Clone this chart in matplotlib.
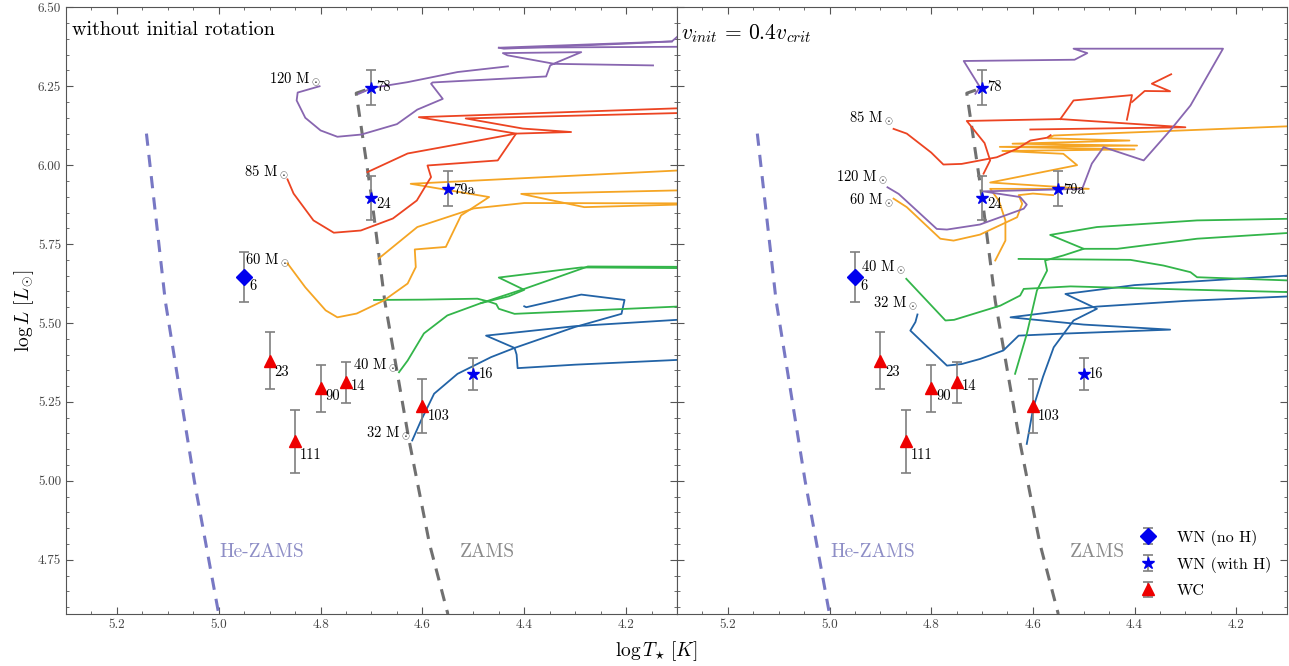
import numpy as np
import matplotlib.pyplot as plt
from matplotlib.ticker import MultipleLocator, AutoMinorLocator, FormatStrFormatter

plt.rcParams['font.family'] = 'serif'
plt.rcParams['font.serif'] = ['cmr10', 'DejaVu Serif']
plt.rcParams['mathtext.fontset'] = 'cm'
plt.rcParams['axes.formatter.use_mathtext'] = True

# ---- observed WR stars (log Teff, log L, error) ----
wn_noh_name = ['6']
wn_noh_T = [4.95]
wn_noh_L = [5.646]
wn_noh_err = [0.08]

wnh_name = ['78', '24', '79a', '16']
wnh_T = [4.70, 4.70, 4.55, 4.50]
wnh_L = [6.246, 5.897, 5.925, 5.338]
wnh_err = [0.055, 0.07, 0.055, 0.05]

wc_name = ['23', '90', '14', '111', '103']
wc_T = [4.90, 4.80, 4.75, 4.85, 4.60]
wc_L = [5.38, 5.293, 5.313, 5.125, 5.237]
wc_err = [0.09, 0.075, 0.065, 0.10, 0.085]

label_offsets = {'6': (5, -9), '78': (5, 0), '24': (5, -6), '79a': (5, -1), '16': (5, 0),
                 '23': (5, -11), '90': (5, -8), '14': (5, -4), '111': (5, -14), '103': (5, -10)}

# ---- ZAMS lines ----
zams_T = [4.712, 4.730, 4.700, 4.674, 4.627, 4.586, 4.550]
zams_L = [6.238, 6.228, 5.900, 5.570, 5.135, 4.800, 4.578]
hezams_T = [5.142, 5.105, 5.048, 5.000]
hezams_L = [6.100, 5.570, 5.000, 4.578]

# ---- tracks without rotation: list of segments of (logT, logL) ----
m32_norot = [
    [(4.620, 5.128), (4.603, 5.19), (4.577, 5.276), (4.531, 5.339), (4.465, 5.392), (4.419, 5.421),
     (4.301, 5.487), (4.209, 5.529), (4.203, 5.573), (4.288, 5.59), (4.396, 5.55), (4.40, 5.553)],
    [(4.10, 5.51), (4.30, 5.49), (4.475, 5.46), (4.419, 5.421), (4.415, 5.40), (4.413, 5.357),
     (4.30, 5.368), (4.10, 5.383)],
]
m40_norot = [
    [(4.646, 5.344), (4.629, 5.381), (4.597, 5.467), (4.551, 5.524), (4.485, 5.563), (4.40, 5.608),
     (4.275, 5.679), (4.10, 5.678)],
    [(4.695, 5.573), (4.60, 5.574), (4.492, 5.577), (4.47, 5.568), (4.455, 5.56), (4.45, 5.545),
     (4.419, 5.529), (4.10, 5.552)],
    [(4.485, 5.563), (4.43, 5.585), (4.40, 5.605), (4.45, 5.644), (4.288, 5.676), (4.10, 5.674)],
]
m60_norot = [
    [(4.865, 5.689), (4.83, 5.613), (4.79, 5.54), (4.767, 5.518), (4.729, 5.53), (4.676, 5.571),
     (4.629, 5.625), (4.613, 5.677), (4.615, 5.733), (4.554, 5.741), (4.524, 5.841), (4.469, 5.899),
     (4.623, 5.941), (4.10, 5.983)],
    [(4.686, 5.704), (4.610, 5.804), (4.499, 5.863), (4.40, 5.88), (4.10, 5.879)],
    [(4.10, 5.92), (4.406, 5.909), (4.282, 5.867), (4.10, 5.875)],
]
m85_norot = [
    [(4.865, 5.955), (4.853, 5.91), (4.814, 5.825), (4.774, 5.786), (4.721, 5.793), (4.658, 5.831),
     (4.611, 5.888), (4.587, 5.952), (4.583, 5.962), (4.590, 5.999), (4.452, 6.015), (4.416, 6.10),
     (4.308, 6.105), (4.403, 6.116), (4.515, 6.148), (4.10, 6.165)],
    [(4.708, 5.978), (4.629, 6.037), (4.50, 6.075), (4.416, 6.10), (4.607, 6.152), (4.10, 6.18)],
]
m120_norot = [
    [(4.802, 6.25), (4.845, 6.23), (4.847, 6.205), (4.83, 6.15), (4.80, 6.11), (4.767, 6.09),
     (4.72, 6.097), (4.65, 6.13), (4.610, 6.176), (4.560, 6.21), (4.583, 6.258), (4.58, 6.262),
     (4.357, 6.281), (4.349, 6.316), (4.334, 6.327), (4.288, 6.358), (4.442, 6.355), (4.433, 6.348),
     (4.341, 6.321), (4.147, 6.316)],
    [(4.725, 6.226), (4.698, 6.245), (4.629, 6.263), (4.531, 6.295), (4.432, 6.313)],
    [(4.10, 6.406), (4.11, 6.392), (4.45, 6.372), (4.10, 6.375)],
    [(4.45, 6.372), (4.44, 6.369), (4.20, 6.385), (4.11, 6.392)],
]

# ---- tracks with v_init = 0.4 v_crit ----
m32_rot = [
    [(4.827, 5.527), (4.831, 5.503), (4.841, 5.476), (4.769, 5.365), (4.74, 5.37), (4.704, 5.386),
     (4.658, 5.413), (4.628, 5.46), (4.546, 5.466), (4.330, 5.479), (4.50, 5.495), (4.644, 5.518),
     (4.474, 5.552), (4.30, 5.57), (4.10, 5.584)],
    [(4.612, 5.117), (4.599, 5.233), (4.580, 5.33), (4.559, 5.423), (4.520, 5.508), (4.474, 5.545),
     (4.536, 5.592), (4.40, 5.62), (4.10, 5.65)],
]
m40_rot = [
    [(4.849, 5.64), (4.772, 5.508), (4.755, 5.51), (4.664, 5.555), (4.625, 5.587), (4.618, 5.608),
     (4.526, 5.616), (4.30, 5.606), (4.10, 5.598)],
    [(4.628, 5.703), (4.408, 5.70), (4.343, 5.682), (4.29, 5.661), (4.277, 5.645), (4.10, 5.635)],
    [(4.635, 5.339), (4.612, 5.465), (4.592, 5.603), (4.572, 5.666), (4.576, 5.698), (4.54, 5.714),
     (4.50, 5.735), (4.566, 5.779), (4.474, 5.804), (4.277, 5.825), (4.10, 5.83)],
    [(4.50, 5.735), (4.434, 5.735), (4.277, 5.767), (4.10, 5.785)],
]
m60_rot = [
    [(4.874, 5.894), (4.848, 5.867), (4.782, 5.767), (4.756, 5.761), (4.704, 5.78), (4.631, 5.835),
     (4.621, 5.878), (4.628, 5.905), (4.60, 5.91), (4.56, 5.905)],
    [(4.674, 5.698), (4.654, 5.761), (4.654, 5.825), (4.667, 5.888), (4.684, 5.925), (4.49, 5.925),
     (4.684, 5.945), (4.513, 6.0), (4.54, 6.036), (4.66, 6.045), (4.40, 6.05), (4.665, 6.058),
     (4.395, 6.062), (4.64, 6.068), (4.41, 6.078), (4.57, 6.085), (4.559, 6.094), (4.10, 6.123)],
]
m85_rot = [
    [(4.874, 6.115), (4.848, 6.10), (4.80, 6.04), (4.776, 6.002), (4.74, 6.004), (4.671, 6.025),
     (4.631, 6.052), (4.605, 6.078), (4.572, 6.087), (4.565, 6.095)],
    [(4.697, 5.973), (4.684, 6.015), (4.695, 6.07), (4.730, 6.14), (4.546, 6.146), (4.30, 6.12),
     (4.605, 6.113)],
    [(4.546, 6.146), (4.52, 6.205), (4.405, 6.222), (4.415, 6.144)],
    [(4.405, 6.20), (4.38, 6.235), (4.330, 6.234), (4.366, 6.258), (4.328, 6.288)],
]
m120_rot = [
    [(4.886, 5.930), (4.864, 5.909), (4.789, 5.798), (4.769, 5.796), (4.704, 5.812), (4.618, 5.862),
     (4.612, 5.875), (4.625, 5.899), (4.698, 5.917), (4.503, 5.925), (4.484, 6.005), (4.461, 6.057),
     (4.382, 6.015), (4.330, 6.11), (4.290, 6.189), (4.226, 6.369), (4.520, 6.369), (4.493, 6.355),
     (4.518, 6.334), (4.736, 6.330), (4.704, 6.247), (4.713, 6.226)],
]

masses = ['32', '40', '60', '85', '120']
colors = ['#2263a6', '#33b54a', '#f5a524', '#ec4422', '#8866b0']
tracks_norot = [m32_norot, m40_norot, m60_norot, m85_norot, m120_norot]
tracks_rot = [m32_rot, m40_rot, m60_rot, m85_rot, m120_rot]

# mass label anchors (right edge, vertical centre)
lab_norot = [(4.623, 5.15), (4.648, 5.365), (4.861, 5.70), (4.863, 5.977), (4.800, 6.272)]
lab_rot = [(4.826, 5.562), (4.851, 5.676), (4.874, 5.888), (4.874, 6.148), (4.886, 5.961)]

fig = plt.figure(figsize=(12.89, 6.66), dpi=100)
ax1 = fig.add_axes([0.0512, 0.078, 0.474, 0.911])
ax2 = fig.add_axes([0.5252, 0.078, 0.4733, 0.911])

for ax, tracks, labs in [(ax1, tracks_norot, lab_norot), (ax2, tracks_rot, lab_rot)]:
    ax.plot(hezams_T, hezams_L, ls='--', color='#7878c4', lw=2.2, dashes=(4, 3))
    ax.plot(zams_T, zams_L, ls='--', color='#707070', lw=2.2, dashes=(4, 3))
    ax.text(4.915, 4.775, 'He-ZAMS', color='#8e8ec6', fontsize=14, ha='center', va='center')
    ax.text(4.473, 4.775, 'ZAMS', color='#8a8a8a', fontsize=14, ha='center', va='center')

    for segs, c in zip(tracks, colors):
        for seg in segs:
            seg = np.array(seg)
            ax.plot(seg[:, 0], seg[:, 1], color=c, lw=1.3)
    for m, (lt, ll) in zip(masses, labs):
        ax.text(lt, ll, m + r' M$_\odot$', fontsize=10.5, ha='right', va='center')

    ekw = dict(ecolor='#7f7f7f', elinewidth=1.2, capsize=3.5, capthick=1.2, ls='none')
    h1 = ax.errorbar(wn_noh_T, wn_noh_L, yerr=wn_noh_err, marker='D', ms=8, mfc='#0000ee',
                     mec='#0000ee', label='WN (no H)', **ekw)
    h2 = ax.errorbar(wnh_T, wnh_L, yerr=wnh_err, marker='*', ms=9, mfc='#0000ee',
                     mec='#0000ee', label='WN (with H)', **ekw)
    h3 = ax.errorbar(wc_T, wc_L, yerr=wc_err, marker='^', ms=9, mfc='#ee0000',
                     mec='#ee0000', label='WC', **ekw)
    for names, ts, ls_ in [(wn_noh_name, wn_noh_T, wn_noh_L), (wnh_name, wnh_T, wnh_L),
                           (wc_name, wc_T, wc_L)]:
        for n, t, l in zip(names, ts, ls_):
            ax.annotate(n, (t, l), xytext=label_offsets[n], textcoords='offset pixels',
                        fontsize=10.5, ha='left', va='center')

    ax.set_xlim(5.3, 4.1)
    ax.set_ylim(4.578, 6.5)
    ax.xaxis.set_major_locator(MultipleLocator(0.2))
    ax.xaxis.set_minor_locator(AutoMinorLocator(4))
    ax.yaxis.set_major_locator(MultipleLocator(0.25))
    ax.yaxis.set_minor_locator(AutoMinorLocator(5))
    ax.xaxis.set_major_formatter(FormatStrFormatter('%.1f'))
    ax.yaxis.set_major_formatter(FormatStrFormatter('%.2f'))
    ax.tick_params(which='both', direction='in', top=True, right=True, labelsize=9.5,
                   labelcolor='#444444', color='#555555')
    ax.tick_params(which='major', length=5)
    ax.tick_params(which='minor', length=2.5)
    for s in ax.spines.values():
        s.set_color('#555555')

ax2.tick_params(labelleft=False)
ax2.legend(handles=[h1, h2, h3], loc='lower right', frameon=False, fontsize=11.5,
           handlelength=1.0, handletextpad=1.3, labelspacing=0.7, borderaxespad=0.6)

ax1.text(0.01, 0.978, 'without initial rotation', transform=ax1.transAxes, fontsize=14.5,
         ha='left', va='top')
ax2.text(0.007, 0.975, r'$v_{init}\,=\,0.4v_{crit}$', transform=ax2.transAxes, fontsize=15.5,
         ha='left', va='top')

ax1.set_ylabel(r'$\log L\ [L_{\odot}]$', fontsize=14, labelpad=1)
fig.text(0.509, 0.022, r'$\log T_{\star}\ [K]$', fontsize=14, ha='center', va='center')

fig.savefig('out.png', dpi=100)
